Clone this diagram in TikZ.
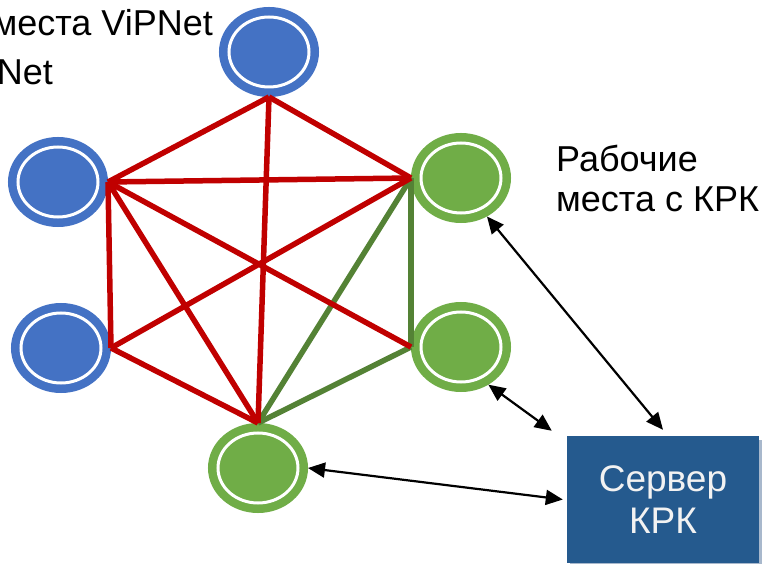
\documentclass[tikz,border=0pt]{standalone}
\usepackage{fontspec}
\setmainfont{Liberation Sans}
\usetikzlibrary{shapes.geometric,arrows.meta,shadows}
\definecolor{vblue}{HTML}{4472C4}
\definecolor{kgreen}{HTML}{70AD47}
\definecolor{redline}{HTML}{C00000}
\definecolor{greenline}{HTML}{548235}
\definecolor{srvblue}{HTML}{255A8E}
\definecolor{srvshadow}{HTML}{A8B8CC}
\definecolor{srvtext}{HTML}{F2F2F2}
\begin{document}
\begin{tikzpicture}[x=1pt,y=-1pt,
  ws/.style={ellipse, minimum width=80pt, minimum height=70pt, inner sep=0pt,
    outer sep=10pt, line width=8.5pt, double=white, double distance=3pt},
  vws/.style={ws, fill=vblue, draw=vblue},
  kws/.style={ws, fill=kgreen, draw=kgreen},
  rl/.style={draw=redline, line width=5.5pt},
  gl/.style={draw=greenline, line width=5.5pt},
  link/.style={draw=black, line width=2.2pt,
    {Triangle[length=17pt,width=15pt]}-{Triangle[length=17pt,width=15pt]}},
  lbl/.style={font=\fontsize{36}{40}\selectfont, inner sep=0pt},
  srvbox/.style={rectangle, fill=srvblue, minimum width=192pt, minimum height=127pt,
    inner sep=0pt, text=srvtext, align=center, font=\fontsize{37}{42}\selectfont,
    drop shadow={shadow xshift=3pt, shadow yshift=-4pt, fill=srvshadow, opacity=1}},
]
\useasboundingbox (0,0) rectangle (769,564);
\clip (0,0) rectangle (769,564);

% workstations
\node[vws] (a) at (269,52) {};
\node[vws] (b) at (58,182) {};
\node[vws] (c) at (61,348) {};
\node[kws] (f) at (461,178) {};
\node[kws] (e) at (461,347) {};
\node[kws] (d) at (258,468) {};

% green links
\draw[gl] (f.west) -- (e.west);
\draw[gl] (d.north) -- (f.west);
\draw[gl] (d.north) -- (e.west);

% red links
\draw[rl] (a.south) -- (b.east);
\draw[rl] (a.south) -- (f.west);
\draw[rl] (a.south) -- (d.north);
\draw[rl] (b.east) -- (f.west);
\draw[rl] (b.east) -- (c.east);
\draw[rl] (b.east) -- (d.north);
\draw[rl] (b.east) -- (e.west);
\draw[rl] (c.east) -- (f.west);
\draw[rl] (c.east) -- (d.north);

% server
\node[srvbox] (srv) at (663,499.5) {Сервер\\КРК};
\coordinate (p1) at ([yshift=6pt]srv.north);
\coordinate (p2) at ([xshift=-15pt,yshift=5pt]srv.north west);
\coordinate (p3) at ([xshift=-4pt]srv.west);
\draw[link] (f.-56) -- (p1);
\draw[link] (e.-54) -- (p2);
\draw[link] (d.east) -- (p3);

% labels
\node[lbl, anchor=base east] (l1) at (213,36) {места ViPNet};
\node[lbl, anchor=base east] (l2) at (53,85) {Net};
\node[lbl, anchor=base west] (l3) at (556,172) {Рабочие};
\node[lbl, anchor=base west] (l4) at (556,212) {места с КРК};
\end{tikzpicture}
\end{document}
